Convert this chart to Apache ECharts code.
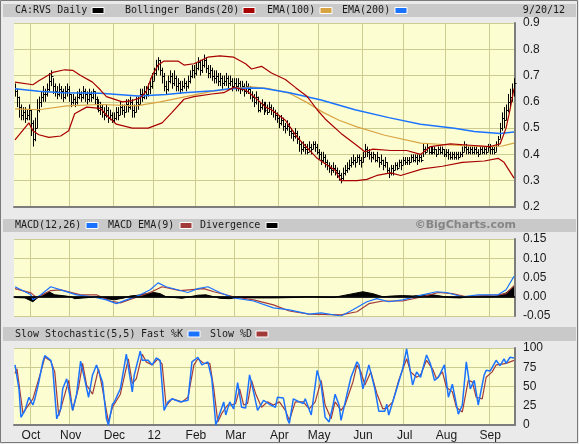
<!DOCTYPE html>
<html lang="en">
<head>
<meta charset="utf-8">
<script src="https://cdn.jsdelivr.net/npm/echarts@6/dist/echarts.min.js"></script>
<style>
    html, body { margin: 0; padding: 0; background: #eaeaea; }
    #chart { width: 579px; height: 444px; }
</style>
</head>
<body>
<div id="chart"></div>
<script>
    // CA:RVS daily, 9/21/11 - 9/20/12 (TSX trading days)
    var holidays = ['2011-10-10', '2011-12-26', '2011-12-27', '2012-01-02', '2012-02-20',
        '2012-04-06', '2012-05-21', '2012-07-02', '2012-08-06', '2012-09-03'];
    var monthLabels = ['12', 'Feb', 'Mar', 'Apr', 'May', 'Jun', 'Jul', 'Aug', 'Sep', 'Oct', 'Nov', 'Dec'];

    var close = [
        .64,.62,.58,.55,.56,.54,.55,.57,.52,.46, .50,.57,.60,.62,.63,.63,.65,.68,.70,.66,
        .64,.63,.65,.64,.62,.64,.65,.63,.60,.61, .60,.62,.63,.62,.64,.63,.61,.63,.62,.64,
        .61,.60,.57,.58,.56,.55,.57,.54,.55,.53, .54,.56,.55,.58,.57,.56,.59,.58,.60,.57,
        .56,.60,.59,.63,.62,.64,.63,.65,.66,.68, .71,.74,.76,.72,.70,.66,.65,.68,.70,.67,
        .69,.66,.67,.65,.66,.67,.66,.68,.70,.72, .71,.73,.75,.72,.74,.76,.73,.71,.72,.70,
        .69,.70,.68,.69,.67,.68,.69,.67,.68,.66, .67,.66,.67,.65,.66,.64,.66,.65,.63,.62,
        .60,.62,.57,.58,.59,.57,.58,.56,.58,.57, .56,.55,.54,.52,.53,.51,.50,.51,.49,.48,
        .47,.48,.46,.44,.42,.43,.42,.41,.43,.42, .44,.43,.41,.40,.38,.39,.37,.36,.35,.34,
        .35,.34,.33,.32,.31,.33,.34,.35,.36,.37, .38,.37,.39,.38,.37,.39,.42,.41,.40,.39,
        .40,.38,.39,.37,.38,.36,.37,.34,.33,.35, .34,.36,.35,.37,.36,.38,.37,.38,.37,.39,
        .38,.39,.38,.39,.38,.42,.41,.43,.41,.42, .41,.42,.40,.42,.41,.42,.40,.41,.40,.39,
        .40,.39,.40,.39,.40,.41,.43,.42,.41,.42, .41,.42,.41,.40,.42,.41,.42,.41,.43,.42,
        .42,.41,.44,.46,.50,.54,.53,.57,.60,.62,.64,.67];
    var high = [
        .67,.65,.62,.59,.58,.58,.57,.59,.57,.53, .54,.61,.62,.64,.66,.65,.67,.71,.72,.69,
        .67,.66,.67,.66,.65,.66,.67,.66,.63,.63, .62,.64,.65,.64,.66,.65,.64,.65,.64,.65,
        .64,.62,.61,.60,.59,.58,.59,.58,.57,.56, .56,.58,.58,.60,.59,.59,.61,.61,.62,.61,
        .59,.62,.62,.65,.65,.66,.66,.67,.69,.71, .73,.76,.77,.76,.73,.71,.68,.70,.72,.71,
        .72,.70,.69,.68,.68,.69,.68,.70,.72,.74, .74,.75,.77,.76,.76,.78,.77,.74,.74,.73,
        .72,.72,.71,.71,.70,.70,.71,.70,.70,.69, .69,.69,.69,.68,.68,.67,.68,.67,.66,.64,
        .63,.64,.62,.60,.61,.60,.60,.59,.60,.59, .58,.57,.56,.55,.55,.54,.52,.53,.52,.50,
        .49,.50,.49,.47,.45,.45,.44,.44,.45,.44, .45,.45,.44,.42,.41,.41,.40,.38,.37,.36,
        .37,.36,.35,.34,.33,.35,.36,.37,.38,.39, .40,.39,.40,.40,.39,.41,.44,.43,.42,.41,
        .41,.40,.41,.39,.40,.38,.39,.37,.35,.36, .36,.37,.37,.38,.38,.39,.39,.39,.39,.40,
        .40,.40,.40,.40,.40,.44,.43,.44,.43,.43, .43,.43,.42,.43,.43,.43,.42,.42,.42,.41,
        .41,.41,.41,.41,.41,.43,.45,.44,.43,.43, .43,.43,.43,.42,.43,.43,.43,.43,.44,.44,
        .43,.43,.45,.47,.52,.56,.58,.59,.63,.65,.67,.69];
    var low = [
        .62,.58,.54,.53,.53,.52,.53,.53,.47,.43, .45,.50,.56,.58,.60,.60,.62,.64,.66,.63,
        .62,.61,.62,.61,.60,.61,.62,.60,.58,.59, .58,.59,.61,.60,.61,.60,.59,.60,.60,.61,
        .59,.57,.56,.55,.54,.53,.54,.52,.53,.52, .52,.53,.53,.55,.55,.54,.56,.56,.57,.54,
        .54,.56,.57,.59,.60,.61,.61,.62,.63,.65, .68,.70,.72,.70,.67,.64,.63,.64,.67,.65,
        .66,.64,.64,.63,.64,.65,.64,.65,.67,.69, .69,.70,.72,.70,.71,.73,.71,.69,.69,.68,
        .67,.67,.66,.66,.65,.66,.66,.65,.66,.64, .65,.64,.64,.63,.64,.62,.63,.63,.61,.60,
        .58,.59,.56,.56,.57,.55,.56,.55,.56,.55, .54,.53,.52,.50,.51,.49,.48,.49,.47,.46,
        .45,.46,.44,.41,.40,.41,.40,.40,.41,.40, .42,.41,.40,.38,.36,.37,.35,.34,.33,.32,
        .33,.32,.31,.30,.29,.30,.32,.33,.34,.35, .36,.35,.37,.36,.35,.37,.39,.39,.38,.37,
        .38,.37,.37,.35,.36,.34,.35,.33,.31,.32, .32,.34,.34,.35,.34,.36,.36,.36,.36,.37,
        .37,.37,.36,.37,.37,.39,.40,.41,.40,.40, .40,.40,.39,.40,.40,.40,.39,.39,.38,.38,
        .38,.38,.38,.38,.39,.39,.41,.40,.40,.40, .40,.40,.40,.39,.40,.40,.40,.40,.41,.40,
        .40,.40,.41,.43,.46,.49,.50,.53,.56,.58,.60,.62];

    // [day index, value]
    var bbUpper = [[0,.675],[9,.665],[12,.68],[19,.712],[25,.722],[29,.72],[33,.70],[39,.675],[43,.645],[46,.62],
        [54,.60],[59,.605],[63,.615],[66,.64],[69,.70],[72,.74],[75,.755],[82,.755],[85,.74],[90,.745],
        [97,.77],[103,.775],[110,.77],[116,.745],[119,.725],[124,.735],[129,.71],[136,.685],[141,.655],[147,.62],
        [152,.57],[156,.535],[164,.48],[171,.44],[176,.41],[180,.42],[189,.415],[197,.415],[204,.40],[209,.43],
        [219,.44],[229,.435],[239,.43],[244,.44],[247,.50],[249,.57],[251,.65]];
    var bbLower = [[0,.455],[7,.52],[9,.49],[12,.475],[17,.465],[23,.47],[27,.49],[30,.555],[36,.58],[43,.575],
        [46,.55],[51,.515],[59,.50],[67,.50],[74,.52],[79,.56],[85,.61],[90,.62],[99,.63],[105,.635],
        [110,.655],[116,.645],[121,.615],[126,.58],[129,.57],[136,.53],[142,.465],[147,.425],[152,.385],[156,.365],
        [161,.34],[164,.30],[172,.30],[177,.305],[182,.32],[189,.33],[194,.32],[205,.345],[215,.355],[225,.37],
        [236,.375],[243,.385],[246,.37],[251,.31]];
    var ema100 = [[0,.573],[12,.57],[26,.585],[43,.59],[61,.585],[73,.60],[86,.62],[99,.64],[109,.65],[119,.657],
        [128,.65],[138,.633],[147,.597],[155,.56],[163,.53],[172,.505],[186,.473],[204,.443],[221,.435],[237,.43],
        [245,.432],[251,.443]];
    var ema200 = [[0,.65],[12,.64],[24,.635],[43,.633],[62,.622],[76,.628],[85,.635],[100,.642],[108,.65],[119,.653],
        [125,.652],[138,.635],[154,.607],[171,.57],[188,.54],[204,.515],[221,.50],[231,.487],[244,.48],[251,.485]];

    var macd = [[0,.026],[8,.005],[9,-.008],[13,.005],[18,.026],[23,.018],[31,.005],[39,0],[46,-.008],[51,-.018],
        [56,-.008],[63,.005],[68,.018],[72,.036],[76,.026],[87,.011],[92,.021],[97,.026],[103,.011],[110,-.003],
        [120,-.011],[130,-.029],[138,-.034],[148,-.045],[154,-.042],[164,-.05],[170,-.034],[177,-.013],[182,-.005],[188,-.013],
        [195,-.008],[205,.005],[212,.013],[217,.011],[225,0],[233,.005],[243,.005],[247,.018],[251,.053]];
    var macdSignal = [[0,.021],[8,.01],[11,-.003],[18,.016],[23,.018],[33,.005],[41,.005],[48,-.011],[53,-.016],[59,-.005],
        [68,.011],[74,.026],[83,.016],[95,.021],[100,.013],[110,0],[120,-.008],[130,-.021],[138,-.037],[148,-.045],
        [164,-.047],[172,-.039],[178,-.018],[185,-.011],[195,-.011],[205,0],[213,.011],[220,.008],[227,0],[235,.003],
        [243,.005],[247,.008],[251,.029]];
    var divergence = [[0,-.002],[5,-.003],[9,-.013],[12,0],[15,.008],[17,.013],[20,.005],[24,.003],[28,0],[30,-.005],
        [37,-.002],[42,0],[46,-.005],[50,-.008],[55,-.003],[58,.002],[62,.004],[66,.008],[70,.011],[73,.008],
        [76,0],[80,-.002],[84,-.004],[88,0],[92,.004],[96,.005],[100,0],[103,-.004],[108,-.005],[112,-.002],
        [120,-.003],[130,-.003],[140,-.002],[148,0],[160,-.002],[166,.004],[170,.008],[175,.013],[180,.008],[185,0],
        [190,.002],[195,.003],[200,.002],[205,.004],[210,.005],[214,.002],[218,-.002],[224,-.003],[228,0],[240,0],
        [244,.004],[247,.01],[251,.026]];

    var stochK = [[0,78],[2,47],[3,10],[5,19],[7,36],[9,26],[10,34],[12,56],[14,82],[15,90],[18,84],[19,73],[21,8],
        [23,21],[24,47],[26,60],[29,19],[31,40],[33,83],[35,60],[37,36],[39,65],[41,78],[44,56],[46,8],[47,0],
        [49,27],[50,30],[53,47],[56,92],[59,43],[60,65],[63,96],[64,84],[67,84],[69,78],[71,87],[73,84],[75,19],
        [77,30],[79,34],[83,30],[87,32],[89,82],[92,88],[94,78],[97,82],[99,60],[101,0],[102,0],[105,30],[106,13],
        [108,30],[110,21],[112,55],[114,23],[116,22],[118,65],[120,43],[122,19],[125,32],[128,27],[131,23],[132,36],
        [135,35],[137,8],[138,2],[140,34],[143,30],[145,28],[146,34],[149,13],[150,14],[152,71],[154,52],[156,10],
        [158,4],[160,26],[161,40],[163,26],[164,6],[167,40],[169,62],[172,82],[173,78],[175,47],[178,78],[181,47],
        [183,18],[186,18],[187,27],[188,13],[192,47],[195,73],[197,99],[200,52],[202,69],[204,62],[207,91],[209,79],
        [211,58],[213,62],[216,78],[218,36],[220,53],[223,14],[225,26],[227,82],[229,47],[231,58],[233,26],[236,65],
        [237,71],[239,70],[242,84],[244,77],[246,86],[247,80],[249,88],[251,87]];
    var stochD = [[0,67],[1,73],[4,15],[6,23],[9,34],[13,69],[15,88],[18,83],[20,69],[22,12],[24,30],[27,58],[29,19],
        [32,49],[34,80],[36,52],[39,40],[42,73],[44,47],[47,4],[49,23],[53,40],[57,86],[59,54],[61,60],[64,92],
        [66,82],[69,78],[72,86],[74,79],[76,25],[79,34],[84,30],[87,36],[90,78],[92,86],[95,80],[98,80],[100,47],
        [102,4],[104,15],[107,26],[109,26],[111,28],[113,47],[115,26],[117,28],[119,58],[121,41],[124,23],[127,30],
        [130,26],[133,30],[136,19],[138,6],[141,30],[145,30],[148,21],[151,30],[154,58],[156,26],[159,8],[161,30],
        [164,19],[166,26],[170,56],[172,78],[174,69],[176,52],[179,69],[182,41],[185,21],[187,22],[190,30],[193,58],
        [197,86],[199,69],[202,62],[204,65],[207,84],[210,73],[212,60],[215,69],[217,49],[220,43],[222,23],[225,17],
        [228,58],[230,56],[232,36],[235,34],[237,62],[240,69],[242,78],[245,79],[247,80],[251,84]];

    var priceTicks = [0.2, 0.9, 0.1];
    var macdTicks = [-0.05, 0.15, 0.05];
    var stochTicks = [0, 100, 25];

    // trading days
    var days = [];
    var d = new Date(Date.UTC(2011, 8, 21));
    var last = Date.UTC(2012, 8, 20);
    while (d.getTime() <= last) {
        var s = d.toISOString().slice(0, 10);
        var wd = d.getUTCDay();
        if (wd !== 0 && wd !== 6 && holidays.indexOf(s) < 0) days.push(s);
        d.setUTCDate(d.getUTCDate() + 1);
    }
    function monthStart(i) {
        return i > 0 && days[i].slice(5, 7) !== days[i - 1].slice(5, 7);
    }

    var bars = [];
    for (var i = 0; i < close.length; i++) bars.push([i, low[i], high[i], close[i]]);

    var mono = '"DejaVu Sans Mono", monospace';
    var gridLine = '#cbcb92';
    var frame = '#7d7d7d';
    var plotBg = '#fdfdd2';

    function xAxis(idx, labels) {
        return {
            type: 'category', gridIndex: idx, data: days, boundaryGap: true,
            axisLine: {show: true, lineStyle: {color: frame, width: 2}},
            axisTick: {show: false},
            axisLabel: {
                show: labels, interval: function (i) { return monthStart(i); },
                formatter: function (v) { return monthLabels[+v.slice(5, 7) - 1]; },
                color: '#1a1a1a', font: '10px ' + mono, margin: 5
            },
            splitLine: {show: true, interval: function (i) { return monthStart(i); },
                lineStyle: {color: gridLine, width: 1}}
        };
    }
    function yAxis(idx, t, dec) {
        return {
            type: 'value', gridIndex: idx, position: 'right',
            min: t[0], max: t[1], interval: t[2],
            axisLine: {show: true, lineStyle: {color: frame, width: 2}},
            axisTick: {show: false},
            axisLabel: {color: '#1a1a1a', font: '10px ' + mono, margin: 8,
                formatter: function (v) { return v.toFixed(dec); }},
            splitLine: {show: true, lineStyle: {color: gridLine, width: 1}}
        };
    }
    function line(data, color, width, ax) {
        return {
            type: 'line', xAxisIndex: ax, yAxisIndex: ax, data: data,
            symbol: 'none', silent: true, lineStyle: {color: color, width: width}
        };
    }
    function text(x, y, s, opt) {
        opt = opt || {};
        return {
            type: 'text', x: x, y: y, silent: true,
            style: {
                text: s, font: opt.font || ('10px ' + mono), fill: opt.fill || '#1a1a1a',
                align: opt.align || 'left', verticalAlign: 'middle',
                textAlign: opt.align || 'left', textVerticalAlign: 'middle'
            }
        };
    }
    function swatch(x, y, color) {
        return {type: 'rect', silent: true, shape: {x: x, y: y - 3, width: 12, height: 6},
            style: {fill: color, stroke: '#ffffff', lineWidth: 1}};
    }
    function band(y, h) {
        return {type: 'rect', silent: true, z: -1, shape: {x: 3, y: y, width: 573, height: h},
            style: {fill: '#c9c9c9'}};
    }

    var myChart = echarts.init(document.getElementById('chart'));

    var option = {
        backgroundColor: '#eaeaea',
        animation: false,
        grid: [
            {left: 14, top: 23, width: 501, height: 184, show: true, backgroundColor: plotBg, borderWidth: 0, outerBoundsMode: 'none'},
            {left: 14, top: 239, width: 501, height: 77, show: true, backgroundColor: plotBg, borderWidth: 0, outerBoundsMode: 'none'},
            {left: 14, top: 348, width: 501, height: 77, show: true, backgroundColor: plotBg, borderWidth: 0, outerBoundsMode: 'none'}
        ],
        xAxis: [xAxis(0, false), xAxis(1, false), xAxis(2, true)],
        yAxis: [yAxis(0, priceTicks, 1), yAxis(1, macdTicks, 2), yAxis(2, stochTicks, 0)],
        series: [
            {
                type: 'custom', xAxisIndex: 0, yAxisIndex: 0, data: bars, silent: true,
                encode: {x: 0, y: [1, 2, 3]},
                renderItem: function (params, api) {
                    var i = api.value(0);
                    var top = api.coord([i, api.value(2)]);
                    var bot = api.coord([i, api.value(1)]);
                    var c = api.coord([i, api.value(3)]);
                    var px = Math.round(top[0]) + 0.5;
                    var cy = Math.round(c[1]) + 0.5;
                    return {
                        type: 'group', children: [
                            {type: 'line', shape: {x1: px, y1: top[1], x2: px, y2: bot[1]},
                                style: {stroke: '#000', lineWidth: 1}},
                            {type: 'line', shape: {x1: px, y1: cy, x2: px + 2, y2: cy},
                                style: {stroke: '#000', lineWidth: 1}}
                        ]
                    };
                }
            },
            line(ema100, '#d8a443', 1.2, 0),
            line(ema200, '#1a73ff', 1.5, 0),
            line(bbUpper, '#a80000', 1.2, 0),
            line(bbLower, '#a80000', 1.2, 0),
            {
                type: 'line', xAxisIndex: 1, yAxisIndex: 1, data: divergence, symbol: 'none', silent: true,
                lineStyle: {color: '#000', width: 1}, areaStyle: {color: '#000', opacity: 1},
                markLine: {silent: true, symbol: 'none', label: {show: false},
                    lineStyle: {color: '#000', width: 1.5, type: 'solid'}, data: [{yAxis: 0}]}
            },
            line(macdSignal, '#a33a3a', 1.2, 1),
            line(macd, '#1a73ff', 1.2, 1),
            line(stochD, '#a33a3a', 1.2, 2),
            line(stochK, '#1a73ff', 1.5, 2)
        ],
        graphic: [
            band(4, 13), band(219, 13), band(327, 14),
            text(15, 10.5, 'CA:RVS Daily'), swatch(92, 10.5, '#000000'),
            text(125, 10.5, 'Bollinger Bands(20)'), swatch(243, 10.5, '#a80000'),
            text(267, 10.5, 'EMA(100)'), swatch(320, 10.5, '#d8a443'),
            text(342, 10.5, 'EMA(200)'), swatch(395, 10.5, '#1a73ff'),
            text(565, 10.5, '9/20/12', {align: 'right'}),
            text(15, 225.5, 'MACD(12,26)'), swatch(86, 225.5, '#1a73ff'),
            text(108, 225.5, 'MACD EMA(9)'), swatch(180, 225.5, '#a33a3a'),
            text(200, 225.5, 'Divergence'), swatch(266, 225.5, '#000000'),
            text(516, 225.5, '\u00a9BigCharts.com', {align: 'right', fill: '#858585', font: 'bold 11px "DejaVu Sans", sans-serif'}),
            text(15, 334, 'Slow Stochastic(5,5)'),
            text(141, 334, 'Fast %K'), swatch(188, 334, '#1a73ff'),
            text(210, 334, 'Slow %D'), swatch(256, 334, '#a33a3a'),
            {type: 'rect', silent: true, shape: {x: 0.5, y: 0.5, width: 577, height: 442},
                style: {fill: 'none', stroke: '#7a7a7a', lineWidth: 1}}
        ]
    };

    myChart.setOption(option);
</script>
</body>
</html>
